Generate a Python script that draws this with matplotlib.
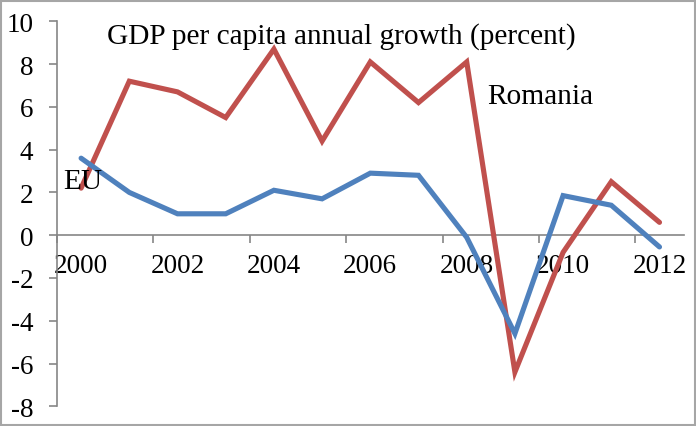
import matplotlib
matplotlib.use("Agg")
import matplotlib.pyplot as plt
from matplotlib.patches import Rectangle

years = list(range(2000, 2013))
romania = [2.2, 7.2, 6.7, 5.5, 8.7, 4.4, 8.1, 6.2, 8.1, -6.4, -0.8, 2.5, 0.6]
eu = [3.6, 2.0, 1.0, 1.0, 2.1, 1.7, 2.9, 2.8, -0.1, -4.6, 1.85, 1.4, -0.55]
xtick_labels = ["2000", "2002", "2004", "2006", "2008", "2010", "2012"]
yticks = list(range(-8, 11, 2))
title = "GDP per capita annual growth (percent)"

plt.rcParams['font.family'] = ['Liberation Serif', 'DejaVu Serif']
plt.rcParams['axes.unicode_minus'] = False

W, H = 696, 427
fig = plt.figure(figsize=(W / 100, H / 100), dpi=100)
ax = fig.add_axes([57 / W, 1 - 407.3 / H, (683.6 - 57) / W, (407.3 - 22.3) / H])

x = list(range(len(years)))
ax.plot(x, romania, color='#C0504D', lw=3.7, solid_capstyle='round', solid_joinstyle='miter', zorder=3)
ax.plot(x, eu, color='#4F81BD', lw=3.7, solid_capstyle='round', solid_joinstyle='miter', zorder=3)

ax.set_xlim(-0.5, len(years) - 0.5)
ax.set_ylim(-8, 10)

gray = '#868686'
for s in ['top', 'right']:
    ax.spines[s].set_visible(False)
ax.spines['left'].set_color(gray)
ax.spines['bottom'].set_color(gray)
ax.spines['bottom'].set_position(('data', 0))
ax.spines['left'].set_linewidth(1.2)
ax.spines['bottom'].set_linewidth(1.2)

ax.set_xticks(x[::2])
ax.set_xticklabels(xtick_labels, fontsize=19.5)
ax.set_xticks([i - 0.5 for i in x[::2]], minor=True)
ax.tick_params(axis='x', which='major', length=0, pad=13)
ax.tick_params(axis='x', which='minor', length=6, width=1.2, color=gray, direction='out')

ax.set_yticks(yticks)
ax.set_yticklabels([str(v) for v in yticks], fontsize=19.5)
ax.tick_params(axis='y', length=6, width=1.2, color=gray, direction='out', pad=11)

ax.patch.set_alpha(0)

fig.text(341 / W, 1 - 37 / H, title, fontsize=21.2, ha='center', va='center')
fig.text(63 / W, 1 - 182 / H, "EU", fontsize=21.2, ha='left', va='center')
fig.text(487 / W, 1 - 97 / H, "Romania", fontsize=21.2, ha='left', va='center')

fig.patches.append(Rectangle((0.002, 0.002), 0.996, 0.994, transform=fig.transFigure,
                             fill=False, edgecolor='#a6a6a6', lw=1.5))

fig.savefig("out.png", dpi=100)
